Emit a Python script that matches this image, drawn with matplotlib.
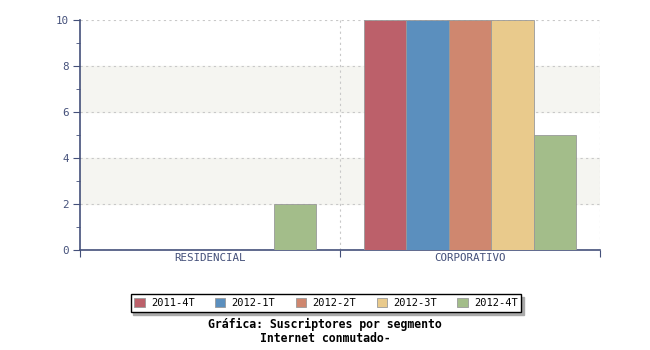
import matplotlib.pyplot as plt
import numpy as np
from matplotlib.ticker import MultipleLocator, FixedLocator, NullFormatter

# Subscribers by segment, one series per quarter
segmentos = ['RESIDENCIAL', 'CORPORATIVO']
periodos = ['2011-4T', '2012-1T', '2012-2T', '2012-3T', '2012-4T']
valores = {
    '2011-4T': [0, 10],
    '2012-1T': [0, 10],
    '2012-2T': [0, 10],
    '2012-3T': [0, 10],
    '2012-4T': [2, 5],
}
colores = ['#bc606a', '#5b8fbe', '#cf876f', '#e9ca8c', '#a3bd8a']

azul = '#44507a'
mono = 'DejaVu Sans Mono'

fig = plt.figure(figsize=(6.5, 3.5), dpi=100)
ax = fig.add_axes([80/650, 1-250/350, 520/650, 230/350])

x = np.arange(len(segmentos))
ancho = 0.163

# alternating background bands
for y0 in (2, 6):
    ax.axhspan(y0, y0 + 2, color='#f5f5f1', zorder=0)

for i, p in enumerate(periodos):
    ax.bar(x + (i - 2) * ancho, valores[p], ancho, color=colores[i],
           edgecolor='#999999', linewidth=0.6, label=p, zorder=3)

ax.set_xlim(-0.5, 1.5)
ax.set_ylim(0, 10)

ax.yaxis.set_major_locator(MultipleLocator(2))
ax.yaxis.set_minor_locator(MultipleLocator(1))
ax.grid(axis='y', which='major', color='#c8c8c8', linestyle=(0, (2, 3)), linewidth=0.8, zorder=1)

# category boundaries as major ticks, names as minor labels
ax.xaxis.set_major_locator(FixedLocator([-0.5, 0.5, 1.5]))
ax.xaxis.set_major_formatter(NullFormatter())
ax.xaxis.set_minor_locator(FixedLocator(x))
ax.set_xticklabels(segmentos, minor=True)
ax.tick_params(axis='x', which='minor', length=0, pad=2)
ax.tick_params(axis='x', which='major', length=5, direction='out', color=azul)
for xv in (0.5, 1.5):
    ax.axvline(xv, color='#c8c8c8', linestyle=(0, (2, 3)), linewidth=0.8, zorder=1)

ax.tick_params(axis='y', which='major', length=5, color=azul, pad=3)
ax.tick_params(axis='y', which='minor', length=3, color=azul)
ax.tick_params(labelcolor=azul, labelsize=8)
for lab in ax.get_xticklabels(minor=True) + ax.get_yticklabels():
    lab.set_family(mono)
    lab.set_fontsize(7.8)
    lab.set_color(azul)

for s in ('top', 'right'):
    ax.spines[s].set_visible(False)
for s in ('left', 'bottom'):
    ax.spines[s].set_color(azul)
    ax.spines[s].set_linewidth(1.2)

leg = fig.legend(loc='center', bbox_to_anchor=(326/650, 1-303/350), ncol=5,
                 prop={'family': mono, 'size': 7.5}, frameon=True, fancybox=False,
                 shadow={'color': '#aaaaaa', 'alpha': 1}, edgecolor='black',
                 handlelength=1.0, handleheight=1.0, handletextpad=0.6,
                 columnspacing=1.95, borderpad=0.35, borderaxespad=0)
leg.get_frame().set_linewidth(1.0)

fig.text(0.5, 1-324/350, 'Gráfica: Suscriptores por segmento', ha='center', va='center',
         family=mono, fontweight='bold', fontsize=8.3)
fig.text(0.5, 1-338/350, 'Internet conmutado-', ha='center', va='center',
         family=mono, fontweight='bold', fontsize=8.3)

fig.savefig('out.png', dpi=100)
